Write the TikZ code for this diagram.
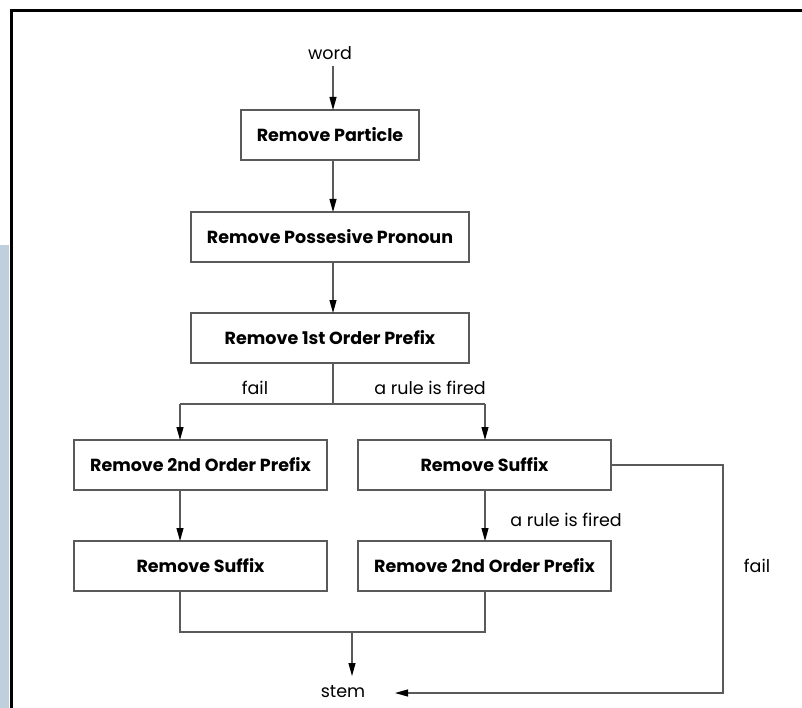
\documentclass[tikz,border=0pt]{standalone}
\usepackage{fontspec}
\setmainfont{Poppins}
\usetikzlibrary{arrows.meta}
\definecolor{linegray}{HTML}{5A5A5A}
\definecolor{stripblue}{HTML}{BFCFDC}
\begin{document}
\begin{tikzpicture}[x=1pt,y=-1pt,
  procbox/.style={draw=linegray,line width=1.1pt,minimum height=50pt,inner sep=0pt,font=\fontsize{17.5}{20}\selectfont\bfseries},
  lbl/.style={font=\fontsize{17.5}{20}\selectfont,inner sep=0pt},
  conn/.style={draw=linegray,line width=1.1pt},
  arr/.style={conn,-{Triangle[length=13pt,width=7pt,black]}}]
\useasboundingbox (0,0) rectangle (802,708);
\fill[white] (0,0) rectangle (802,708);
\fill[stripblue] (0,245) rectangle (9,708);
\draw[black,line width=3pt] (11,708) -- (11,11) -- (802,11);
% nodes
\node[lbl] (word) at (330,53) {word};
\node[procbox,minimum width=178pt] (b1) at (330,135) {Remove Particle};
\node[procbox,minimum width=278pt] (b2) at (330,237) {Remove Possesive Pronoun};
\node[procbox,minimum width=278pt] (b3) at (330,338) {Remove 1st Order Prefix};
\node[procbox,minimum width=253pt] (b4) at (200.5,465) {Remove 2nd Order Prefix};
\node[procbox,minimum width=253pt] (b5) at (484.5,465) {Remove Suffix};
\node[procbox,minimum width=253pt] (b6) at (200.5,566) {Remove Suffix};
\node[procbox,minimum width=253pt] (b7) at (484.5,566) {Remove 2nd Order Prefix};
\node[lbl] (stem) at (343,692) {stem};
\node[lbl] (fail1) at (255,388) {fail};
\node[lbl] (fired1) at (430,388) {a rule is fired};
\node[lbl] (fired2) at (566,520) {a rule is fired};
\node[lbl] (fail2) at (757,566) {fail};
% coordinates
\coordinate (s1) at (333,404);
\coordinate (l1) at (180,404);
\coordinate (r1) at (485,404);
\coordinate (jl) at (180,632);
\coordinate (jr) at (485,632);
\coordinate (jm) at (352,632);
\coordinate (sd) at (352,676);
\coordinate (rc1) at (723,465);
\coordinate (rc2) at (723,693);
\coordinate (st) at (395,693);
% connectors
\draw[arr] (333,66) -- (333,110);
\draw[arr] (333,160) -- (333,212);
\draw[arr] (333,262) -- (333,313);
\draw[conn] (333,363) -- (s1);
\draw[conn] (l1) -- (r1);
\draw[arr] (l1) -- (180,440);
\draw[arr] (r1) -- (485,440);
\draw[arr] (180,490) -- (180,541);
\draw[arr] (485,490) -- (485,541);
\draw[conn] (180,591) -- (jl) -- (jr) -- (485,591);
\draw[arr] (jm) -- (sd);
\draw[arr] (b5.east) -- (rc1) -- (rc2) -- (st);
\end{tikzpicture}
\end{document}
